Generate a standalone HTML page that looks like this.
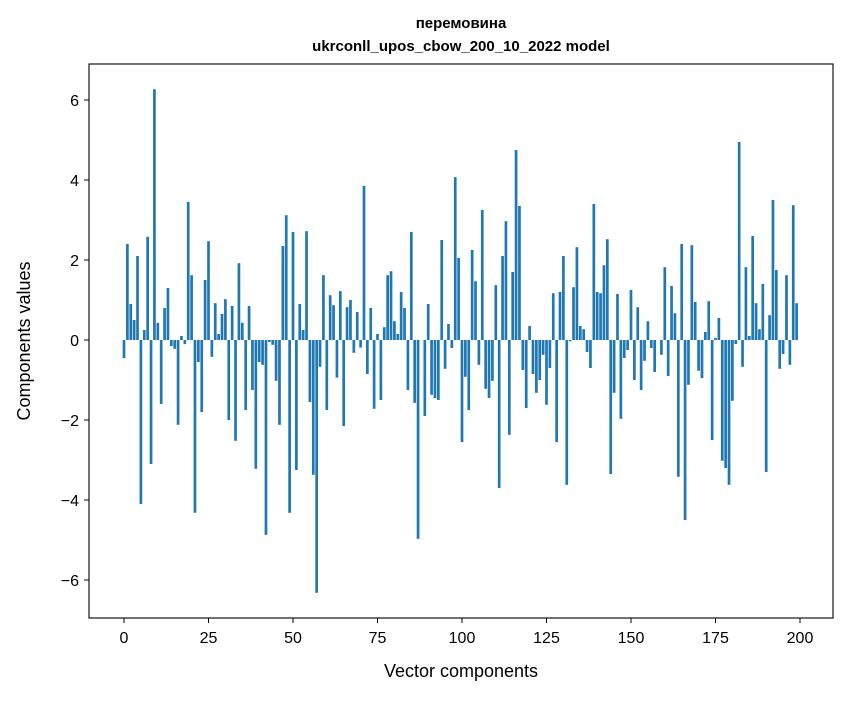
<!DOCTYPE html>
<html><head><meta charset="utf-8"><style>
body{margin:0;background:#fff;}
svg text{font-family:"Liberation Sans","DejaVu Sans",sans-serif;fill:#000;}
</style></head><body>
<svg id="chart" width="847" height="696" viewBox="0 0 847 696" xmlns="http://www.w3.org/2000/svg">
<rect width="847" height="696" fill="#fff"/>
<text x="461" y="28" font-size="15" font-weight="bold" text-anchor="middle">перемовина</text>
<text x="461" y="51" font-size="15" font-weight="bold" text-anchor="middle">ukrconll_upos_cbow_200_10_2022 model</text>
<g id="bars"></g>
<g id="axes"></g>
<rect x="89" y="64" width="744" height="554" fill="none" stroke="#000" stroke-width="1.1"/>
<text x="461" y="677" font-size="18" text-anchor="middle">Vector components</text>
<text transform="translate(30,341) rotate(-90)" font-size="18" text-anchor="middle">Components values</text>
</svg>
<script>
const values = [-0.45,2.4,0.9,0.5,2.1,-4.1,0.25,2.58,-3.1,6.27,0.43,-1.6,0.8,1.3,-0.15,-0.22,-2.12,0.1,-0.1,3.45,
1.62,-4.32,-0.55,-1.8,1.5,2.47,-0.42,0.92,0.15,0.65,1.02,-2.0,0.85,-2.52,1.92,0.43,-1.75,0.85,-1.25,-3.22,
-0.55,-0.62,-4.87,-0.05,-0.12,-1.02,-2.12,2.35,3.12,-4.32,2.7,-3.25,0.9,0.25,2.72,-1.55,-3.37,-6.32,-0.67,1.62,
-1.75,1.12,0.87,-0.94,1.22,-2.15,0.82,1.0,-0.32,0.7,-0.19,3.85,-0.85,0.8,-1.72,0.15,-1.5,0.32,1.62,1.72,
0.47,0.15,1.2,0.8,-1.25,2.7,-1.57,-4.97,0.0,-1.9,0.9,-1.37,-1.45,-1.5,2.5,-0.72,0.4,-0.2,4.07,2.05,
-2.55,-0.92,-1.75,2.25,1.47,-0.62,3.25,-1.22,-1.45,-1.02,1.37,-3.7,2.1,2.97,-2.37,1.7,4.75,3.35,-0.75,-1.7,
0.35,-0.85,-1.32,-1.0,-0.37,-1.62,-0.7,1.17,-2.55,1.2,2.1,-3.62,-0.03,1.32,2.32,0.35,0.27,-0.3,-0.7,3.4,
1.2,1.17,1.87,2.52,-3.35,-1.32,1.15,-1.97,-0.45,-0.25,1.25,-1.0,0.82,-1.25,-0.52,0.47,-0.2,-0.8,0.0,-0.37,
1.82,-0.9,1.35,0.67,-3.42,2.4,-4.5,-1.12,2.37,0.95,-0.77,-0.95,0.2,0.97,-2.5,0.05,0.55,-3.02,-3.2,-3.62,
-1.52,-0.1,4.95,-0.67,1.82,0.1,2.6,0.92,0.27,1.4,-3.3,0.62,3.5,1.75,-0.72,-0.35,1.62,-0.62,3.37,0.92];
const xTicks = [0,25,50,75,100,125,150,175,200];
const yTicks = [-6,-4,-2,0,2,4,6];
const NS = "http://www.w3.org/2000/svg";
function xs(i){return 124 + 3.38*i;}
function ys(v){return 340 - 40*v;}
const bars = document.getElementById('bars');
values.forEach((v,i)=>{
  const r = document.createElementNS(NS,'rect');
  const y0 = Math.min(ys(v), ys(0));
  r.setAttribute('x', xs(i)-1.35);
  r.setAttribute('y', y0);
  r.setAttribute('width', 2.7);
  r.setAttribute('height', Math.max(Math.abs(ys(v)-ys(0)),0.01));
  r.setAttribute('fill', '#1f77b4');
  
  
  bars.appendChild(r);
});
const axes = document.getElementById('axes');
xTicks.forEach(t=>{
  const l = document.createElementNS(NS,'line');
  l.setAttribute('x1', xs(t)); l.setAttribute('x2', xs(t));
  l.setAttribute('y1', 618); l.setAttribute('y2', 623);
  l.setAttribute('stroke', '#000');
  
  
  axes.appendChild(l);
  const tx = document.createElementNS(NS,'text');
  tx.setAttribute('x', xs(t)); tx.setAttribute('y', 643);
  tx.setAttribute('font-size', '16'); tx.setAttribute('text-anchor', 'middle');
  tx.textContent = t;
  
  
  axes.appendChild(tx);
});
yTicks.forEach(t=>{
  const l = document.createElementNS(NS,'line');
  l.setAttribute('x1', 84); l.setAttribute('x2', 89);
  l.setAttribute('y1', ys(t)); l.setAttribute('y2', ys(t));
  l.setAttribute('stroke', '#000');
  
  
  axes.appendChild(l);
  const tx = document.createElementNS(NS,'text');
  tx.setAttribute('x', 79); tx.setAttribute('y', ys(t)+6);
  tx.setAttribute('font-size', '16'); tx.setAttribute('text-anchor', 'end');
  tx.textContent = t < 0 ? '\u2212' + Math.abs(t) : String(t);
  
  
  axes.appendChild(tx);
});
</script>
</body></html>
